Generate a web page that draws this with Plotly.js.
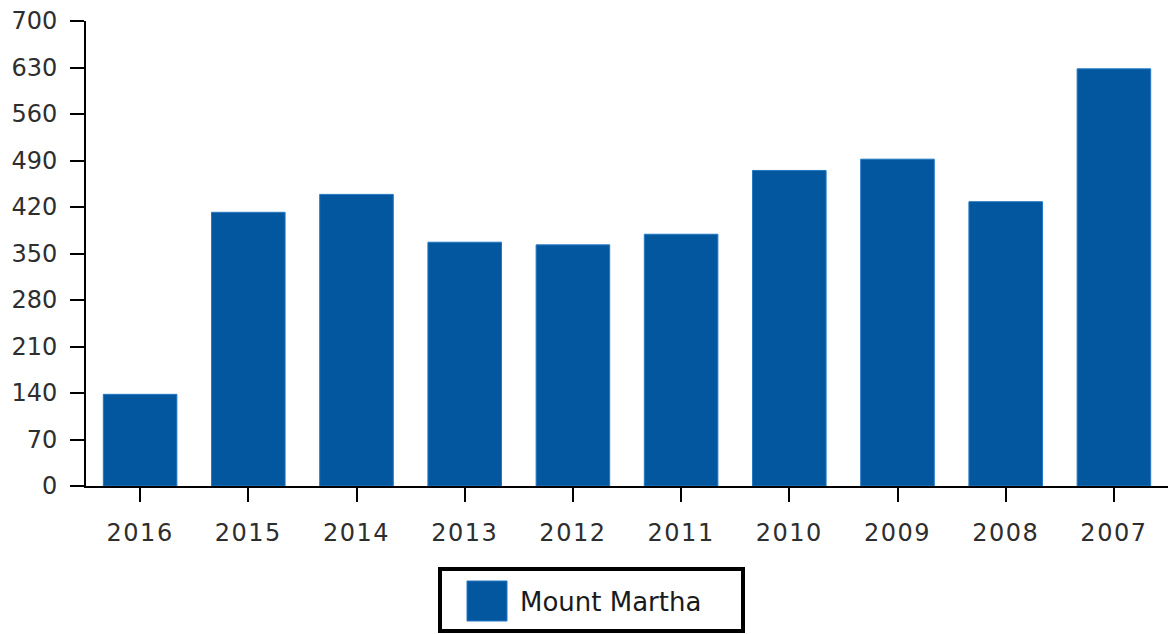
<!DOCTYPE html>
<html>
<head>
<meta charset="utf-8">
<script src="https://cdn.plot.ly/plotly-3.0.1.min.js"></script>
<style>
  html, body { margin:0; padding:0; background:#fff; }
  #chart { width:1168px; height:634px; }
  /* the year labels are a bit spaced out in the original */
  #chart .xtick text { letter-spacing: 1.5px; }
</style>
</head>
<body>
<div id="chart"></div>
<script>
// data
const years = ['2016','2015','2014','2013','2012','2011','2010','2009','2008','2007'];
const counts = [138, 412, 439, 367, 363, 379, 475, 492, 428, 628];
const seriesName = 'Mount Martha';

const barColor = '#02579e';
const W = 1168, H = 634;
const margin = {l:86, r:0, t:21, b:148};

// pixel -> paper helpers, for the hand made legend box
const plotW = W - margin.l - margin.r;
const plotH = H - margin.t - margin.b;
const px = (x) => (x - margin.l) / plotW;
const py = (y) => (H - margin.b - y) / plotH;

const trace = {
  x: years,
  y: counts,
  type: 'bar',
  name: seriesName,
  marker: {
    color: barColor,
    line: {color: '#2478c4', width: 1}
  },
  hoverinfo: 'x+y'
};

const axisFont = {family: 'DejaVu Sans', size: 24, color: '#2e2e2e'};

const layout = {
  width: W,
  height: H,
  margin: margin,
  paper_bgcolor: '#fff',
  plot_bgcolor: '#fff',
  showlegend: false,
  bargap: 0.32,
  xaxis: {
    type: 'category',
    showline: true,
    linecolor: '#000',
    linewidth: 2,
    ticks: 'outside',
    ticklen: 14,
    tickwidth: 2,
    tickcolor: '#000',
    showgrid: false,
    zeroline: false,
    tickfont: axisFont,
    ticklabelstandoff: 10
  },
  yaxis: {
    range: [0, 700],
    dtick: 70,
    tick0: 0,
    showline: true,
    linecolor: '#000',
    linewidth: 2,
    ticks: 'outside',
    ticklen: 14,
    tickwidth: 2,
    tickcolor: '#000',
    showgrid: false,
    zeroline: false,
    tickfont: axisFont,
    ticklabelstandoff: 8
  },
  shapes: [
    {type: 'rect', xref: 'paper', yref: 'paper',
     x0: px(440), x1: px(743), y0: py(631), y1: py(569),
     line: {color: '#000', width: 4}, fillcolor: '#fff'},
    {type: 'rect', xref: 'paper', yref: 'paper',
     x0: px(467), x1: px(507), y0: py(621), y1: py(581),
     line: {color: '#2478c4', width: 1}, fillcolor: barColor}
  ],
  annotations: [
    {xref: 'paper', yref: 'paper', x: px(518), y: py(602),
     xanchor: 'left', yanchor: 'middle', showarrow: false,
     text: seriesName,
     font: {family: 'DejaVu Sans', size: 26, color: '#1a1a1a'}}
  ]
};

Plotly.newPlot('chart', [trace], layout, {displayModeBar: false, staticPlot: true});
</script>
</body>
</html>
